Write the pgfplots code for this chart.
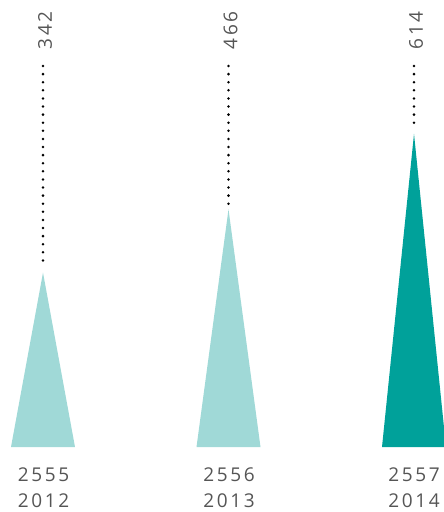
\documentclass[border=0pt]{standalone}
\usepackage{pgfplots}
\pgfplotsset{compat=1.18}
\usepackage{fontspec}
\setmainfont{Open Sans}
\newfontfamily\lblfont[LetterSpace=14]{Open Sans}
\definecolor{lightteal}{HTML}{A0D9D7}
\definecolor{darkteal}{HTML}{00A19A}
\definecolor{txtgray}{HTML}{555555}
\begin{document}
\begin{tikzpicture}
\begin{axis}[
  width=444bp, height=512bp, scale only axis,
  axis lines=none, ticks=none,
  xmin=-0.2318, xmax=2.1617,
  ymin=-127.45, ymax=876.5,
  clip=true,
]
% triangles (half-width 0.1725)
\addplot[fill=lightteal, draw=none] coordinates {(-0.1725,0) (0,342) (0.1725,0)} -- cycle;
\addplot[fill=lightteal, draw=none] coordinates {(0.8275,0) (1,466) (1.1725,0)} -- cycle;
\addplot[fill=darkteal, draw=none] coordinates {(1.8275,0) (2,614) (2.1725,0)} -- cycle;
% dotted leaders
\addplot[black, line width=2.8bp, line cap=round, dash pattern=on 0bp off 8.1bp] coordinates {(0,747) (0,354)};
\addplot[black, line width=2.8bp, line cap=round, dash pattern=on 0bp off 8.1bp] coordinates {(1,747) (1,476)};
\addplot[black, line width=2.8bp, line cap=round, dash pattern=on 0bp off 8.1bp] coordinates {(2,747) (2,626)};
% value labels
\node[rotate=90, anchor=base, text=txtgray, font=\lblfont\fontsize{19bp}{22bp}\selectfont] at (axis cs:0.048,816.7) {342};
\node[rotate=90, anchor=base, text=txtgray, font=\lblfont\fontsize{19bp}{22bp}\selectfont] at (axis cs:1.048,816.7) {466};
\node[rotate=90, anchor=base, text=txtgray, font=\lblfont\fontsize{19bp}{22bp}\selectfont] at (axis cs:2.048,816.7) {614};
% year labels
\node[anchor=base, text=txtgray, font=\lblfont\fontsize{19bp}{22bp}\selectfont] at (axis cs:0.003,-68.6) {2555};
\node[anchor=base, text=txtgray, font=\lblfont\fontsize{19bp}{22bp}\selectfont] at (axis cs:0.003,-119.6) {2012};
\node[anchor=base, text=txtgray, font=\lblfont\fontsize{19bp}{22bp}\selectfont] at (axis cs:1.003,-68.6) {2556};
\node[anchor=base, text=txtgray, font=\lblfont\fontsize{19bp}{22bp}\selectfont] at (axis cs:1.003,-119.6) {2013};
\node[anchor=base, text=txtgray, font=\lblfont\fontsize{19bp}{22bp}\selectfont] at (axis cs:2.000,-68.6) {2557};
\node[anchor=base, text=txtgray, font=\lblfont\fontsize{19bp}{22bp}\selectfont] at (axis cs:2.000,-119.6) {2014};
\end{axis}
\pgfresetboundingbox
\path[use as bounding box] (current axis.south west) rectangle (current axis.north east);
\end{tikzpicture}
\end{document}
